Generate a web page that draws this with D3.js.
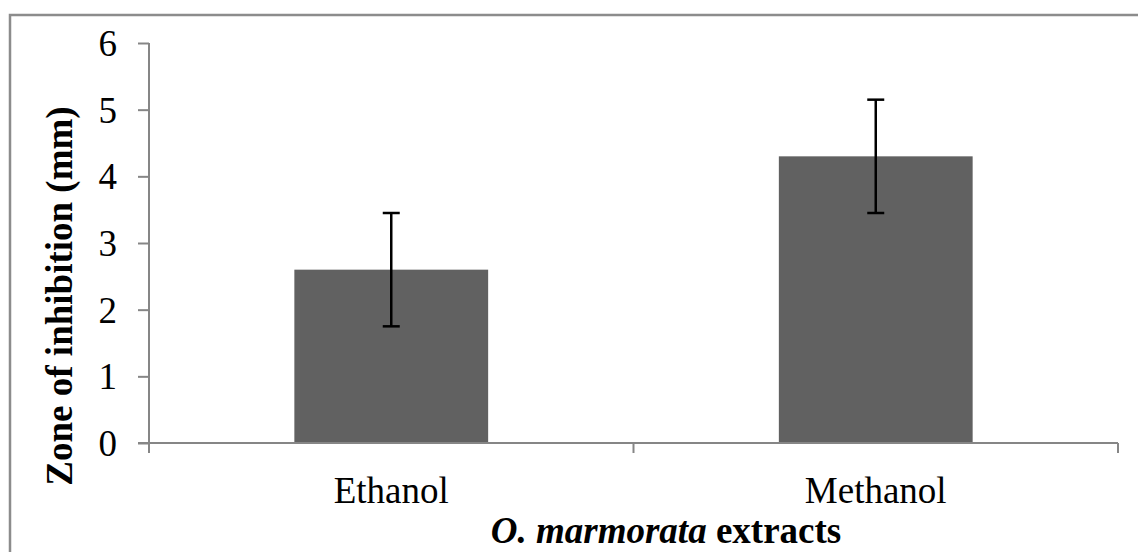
<!DOCTYPE html>
<html>
<head>
<meta charset="utf-8">
<script src="https://cdn.jsdelivr.net/npm/d3@7.9.0/dist/d3.min.js"></script>
<style>
  html, body { margin: 0; padding: 0; background: #fff; }
  svg { display: block; }
  text { font-family: "Liberation Serif", "Times New Roman", serif; fill: #000; }
</style>
</head>
<body>
<svg id="chart" width="1138" height="552"></svg>
<script>
const extracts = ['Ethanol', 'Methanol'];
const zoneMeans = [2.6, 4.3];
const zoneErrors = [0.85, 0.85];
const yTicks = [0, 1, 2, 3, 4, 5, 6];

const width = 1138;
const height = 552;
const margin = { top: 43, right: 20, bottom: 109, left: 149 };
const axisColor = '#868686';

const svg = d3.select('#chart');

svg.append('rect')
  .attr('x', 10).attr('y', 15)
  .attr('width', width + 20).attr('height', height + 20)
  .attr('fill', '#fff')
  .attr('stroke', '#8c8c8c')
  .attr('stroke-width', 2.5);

const x = d3.scaleBand()
  .domain(extracts)
  .range([margin.left, width - margin.right])
  .padding(0);

const y = d3.scaleLinear()
  .domain([0, 6])
  .range([height - margin.bottom, margin.top]);

const barWidth = x.bandwidth() / 2.5;

// bars
svg.append('g')
  .selectAll('rect')
  .data(extracts)
  .join('rect')
  .attr('x', (d) => x(d) + x.bandwidth() / 2 - barWidth / 2)
  .attr('y', (d, i) => y(zoneMeans[i]))
  .attr('width', barWidth)
  .attr('height', (d, i) => y(0) - y(zoneMeans[i]))
  .attr('fill', '#616161');

// y axis
const yAxis = svg.append('g')
  .attr('transform', `translate(${margin.left},0)`)
  .call(d3.axisLeft(y).tickValues(yTicks).tickFormat(d3.format('d'))
    .tickSizeInner(11).tickSizeOuter(0).tickPadding(21));
yAxis.select('.domain').remove();
yAxis.selectAll('line').attr('stroke', axisColor).attr('stroke-width', 2);
yAxis.selectAll('text').attr('font-size', 37).attr('dy', '0.34em');
yAxis.append('line')
  .attr('x1', 0).attr('x2', 0)
  .attr('y1', y(6)).attr('y2', y(0) + 10)
  .attr('stroke', axisColor).attr('stroke-width', 2);

// x axis
const xAxis = svg.append('g')
  .attr('transform', `translate(0,${y(0)})`)
  .call(d3.axisBottom(x).tickSize(0).tickPadding(34));
xAxis.select('.domain').remove();
xAxis.selectAll('text').attr('font-size', 37);
xAxis.append('line')
  .attr('x1', x.range()[0] - 11).attr('x2', x.range()[1])
  .attr('y1', 0).attr('y2', 0)
  .attr('stroke', axisColor).attr('stroke-width', 2);
const boundaries = extracts.map((d) => x(d)).concat([x.range()[1]]);
xAxis.selectAll('.boundary')
  .data(boundaries)
  .join('line')
  .attr('class', 'boundary')
  .attr('x1', (d) => d).attr('x2', (d) => d)
  .attr('y1', 0).attr('y2', 10)
  .attr('stroke', axisColor).attr('stroke-width', 2);

// error bars
const errG = svg.append('g').attr('stroke', '#000').attr('stroke-width', 2.5);
extracts.forEach((d, i) => {
  const cx = x(d) + x.bandwidth() / 2;
  const top = y(zoneMeans[i] + zoneErrors[i]);
  const bot = y(zoneMeans[i] - zoneErrors[i]);
  errG.append('line').attr('x1', cx).attr('x2', cx).attr('y1', top).attr('y2', bot);
  errG.append('line').attr('x1', cx - 8.5).attr('x2', cx + 8.5).attr('y1', top).attr('y2', top);
  errG.append('line').attr('x1', cx - 8.5).attr('x2', cx + 8.5).attr('y1', bot).attr('y2', bot);
});

// axis titles
const xTitle = svg.append('text')
  .attr('x', 666).attr('y', 543)
  .attr('text-anchor', 'middle')
  .attr('font-size', 37)
  .attr('font-weight', 'bold');
xTitle.append('tspan').attr('font-style', 'italic').text('O. marmorata');
xTitle.append('tspan').text(' extracts');

svg.append('text')
  .attr('transform', 'translate(72,296) rotate(-90)')
  .attr('text-anchor', 'middle')
  .attr('font-size', 37)
  .attr('font-weight', 'bold')
  .text('Zone of inhibition (mm)');
</script>
</body>
</html>
